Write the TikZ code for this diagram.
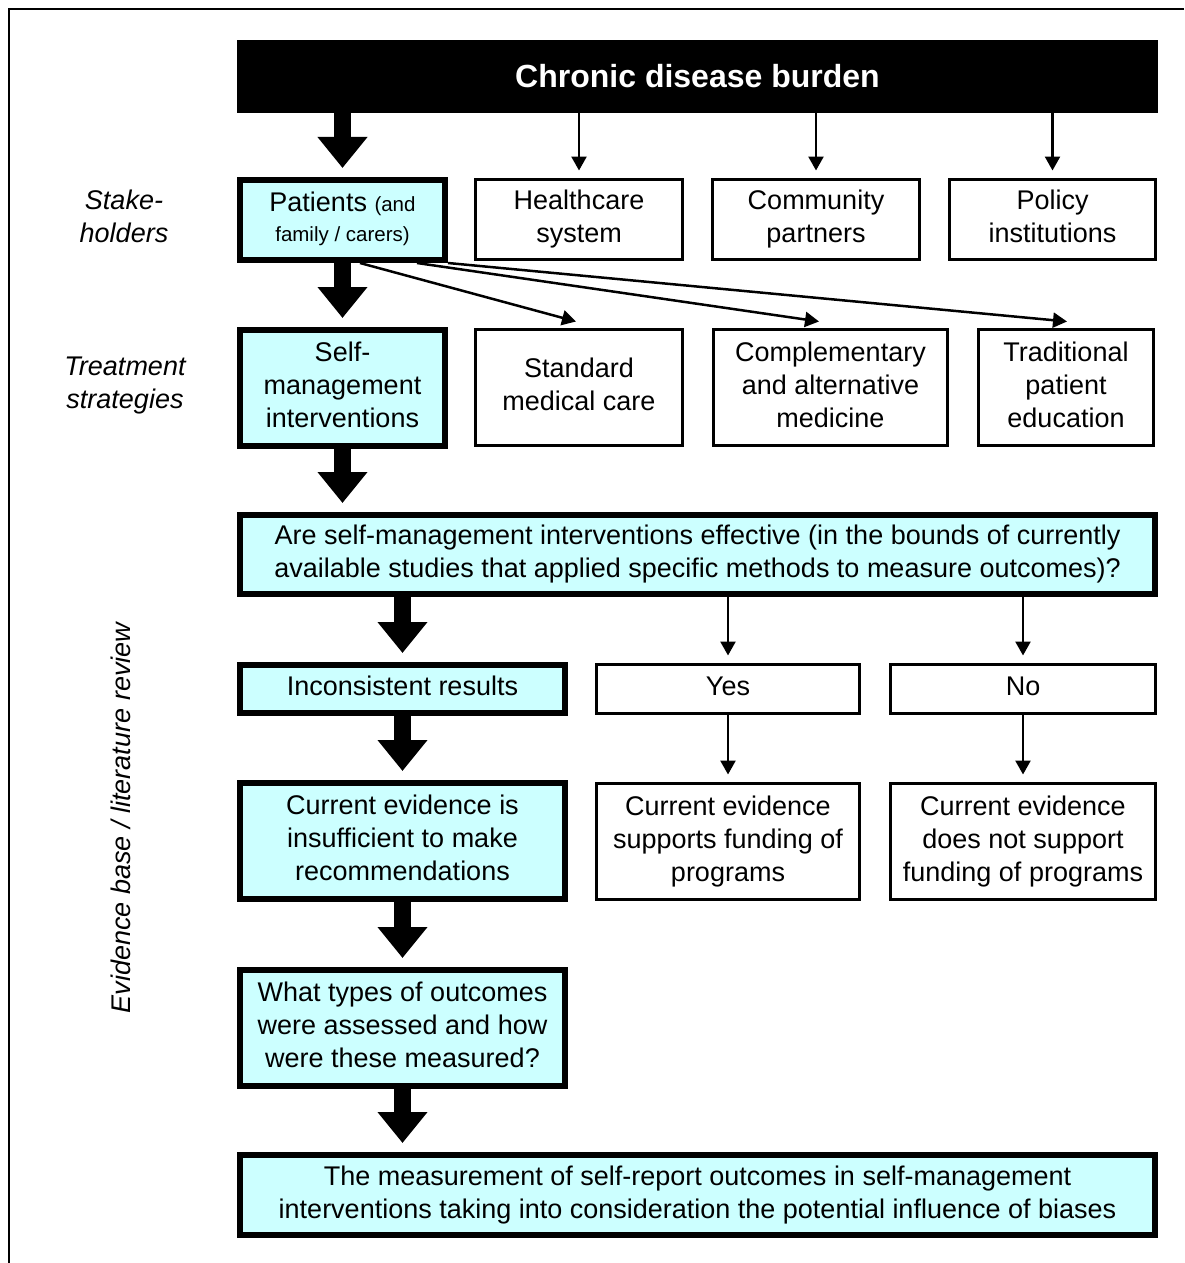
\documentclass[tikz,border=0pt]{standalone}
\usepackage{fontspec}
\setmainfont{Liberation Sans}
\usetikzlibrary{arrows.meta,calc}
\definecolor{boxcyan}{HTML}{CCFFFF}
\begin{document}
\begin{tikzpicture}[x=0.5pt,y=-0.5pt,
  txt/.style={font=\fontsize{13.5pt}{16.5pt}\selectfont, align=center, inner sep=0pt, text depth=2.86pt},
  keybox/.style={txt, draw=black, line width=3pt, fill=boxcyan},
  plainbox/.style={txt, draw=black, line width=1.5pt, fill=white},
  bigarrow/.style={line width=8.5pt, -{Triangle[length=15.5pt,width=24pt]}, shorten >=4.5pt},
  thinarrow/.style={line width=1.25pt, -{Triangle[length=7pt,width=7.5pt]}, shorten >=3.75pt},
  sidelabel/.style={txt, font=\fontsize{13.5pt}{16.5pt}\selectfont\itshape}
]
\useasboundingbox (0,0) rectangle (1184,1263);

% frame (top and left edges)
\coordinate (frameTR) at (1184,9);
\coordinate (frameC) at (9,9);
\coordinate (frameBL) at (9,1263);
\draw[line width=1.25pt] (frameTR) -- (frameC) -- (frameBL);

% header bar
\node[fill=black, minimum width=460.5pt, minimum height=36.5pt, inner sep=0pt,
      text=white, font=\fontsize{16pt}{19pt}\selectfont\bfseries] (hdr) at (697.5,76.5) {Chronic disease burden};

% side labels
\node[sidelabel] (lblstake) at (124,219) {Stake-\\holders};
\node[sidelabel] (lbltreat) at (125,386) {Treatment\\strategies};
\node[sidelabel, rotate=90] (lblevid) at (124,818) {Evidence base / literature review};

% stakeholders
\node[keybox, minimum width=102.5pt, minimum height=40pt] (pat) at (342.5,220)
  {Patients {\fontsize{10.25pt}{16.5pt}\selectfont (and}\\[-1.5pt]{\fontsize{10.25pt}{16.5pt}\selectfont family / carers)}};
\node[plainbox, minimum width=103.5pt, minimum height=40pt] (hc) at (579,219.5) {Healthcare\\system};
\node[plainbox, minimum width=103.5pt, minimum height=40pt] (cp) at (816,219.5) {Community\\partners};
\node[plainbox, minimum width=103pt, minimum height=40pt] (pi) at (1052.5,219.5) {Policy\\institutions};

% treatment strategies
\node[keybox, minimum width=102.5pt, minimum height=58pt] (smi) at (342.5,388) {Self-\\management\\interventions};
\node[plainbox, minimum width=103.5pt, minimum height=58pt] (smc) at (579,387.5) {Standard\\medical care};
\node[plainbox, minimum width=117pt, minimum height=58pt] (cam) at (830.5,387.5) {Complementary\\and alternative\\medicine};
\node[plainbox, minimum width=87.5pt, minimum height=58pt] (tpe) at (1066,387.5) {Traditional\\patient\\education};

% evidence base
\node[keybox, minimum width=457.5pt, minimum height=39.5pt] (q) at (697.5,554.5)
  {Are self-management interventions effective (in the bounds of currently\\available studies that applied specific methods to measure outcomes)?};
\node[keybox, minimum width=162.5pt, minimum height=24pt] (inc) at (402.5,689) {Inconsistent results};
\node[plainbox, minimum width=131.5pt, minimum height=24.5pt] (yes) at (728,689) {Yes};
\node[plainbox, minimum width=132.5pt, minimum height=24.5pt] (no) at (1023,689) {No};
\node[keybox, minimum width=162.5pt, minimum height=58pt] (ins) at (402.5,841)
  {Current evidence is\\insufficient to make\\recommendations};
\node[plainbox, minimum width=131.5pt, minimum height=58pt] (sup) at (728,841.5)
  {Current evidence\\supports funding of\\programs};
\node[plainbox, minimum width=132.5pt, minimum height=58pt] (nsup) at (1023,841.5)
  {Current evidence\\does not support\\funding of programs};
\node[keybox, minimum width=162.5pt, minimum height=58pt] (what) at (402.5,1028)
  {What types of outcomes\\were assessed and how\\were these measured?};
\node[keybox, minimum width=457.5pt, minimum height=40pt] (fin) at (697.5,1195)
  {The measurement of self-report outcomes in self-management\\interventions taking into consideration the potential influence of biases};

% main path (bold arrows)
\draw[bigarrow] (pat.north |- hdr.south) -- (pat.north);
\draw[bigarrow] (pat.south) -- (smi.north);
\draw[bigarrow] (smi.south) -- (smi.south |- q.north);
\draw[bigarrow] (inc.north |- q.south) -- (inc.north);
\draw[bigarrow] (inc.south) -- (ins.north);
\draw[bigarrow] (ins.south) -- (what.north);
\draw[bigarrow] (what.south) -- (what.south |- fin.north);

% other stakeholders
\draw[thinarrow] (hc.north |- hdr.south) -- (hc.north);
\draw[thinarrow] (cp.north |- hdr.south) -- (cp.north);
\draw[thinarrow] (pi.north |- hdr.south) -- (pi.north);

% other treatment strategies
\draw[thinarrow, shorten >=0pt] ($(pat.south west)+(123,0)$) -- ($(smc.north)+(-3,-6.5)$);
\draw[thinarrow, shorten >=0pt] ($(pat.south west)+(180,0)$) -- ($(cam.north)+(-11.5,-6.5)$);
\draw[thinarrow, shorten >=0pt] (pat.south east) -- ($(tpe.north)+(1,-6.5)$);

% yes / no branches
\draw[thinarrow] (yes.north |- q.south) -- (yes.north);
\draw[thinarrow] (no.north |- q.south) -- (no.north);
\draw[thinarrow] (yes.south) -- (sup.north);
\draw[thinarrow] (no.south) -- (nsup.north);
\end{tikzpicture}
\end{document}
